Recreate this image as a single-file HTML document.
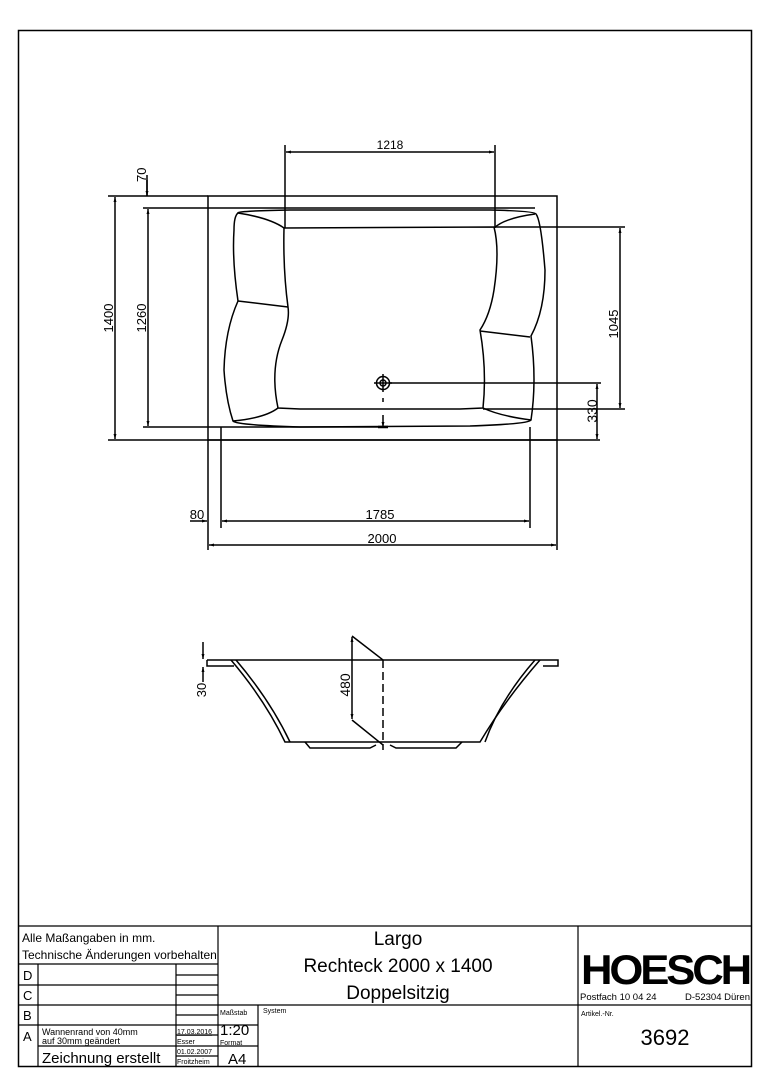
<!DOCTYPE html>
<html><head><meta charset="utf-8"><style>
html,body{margin:0;padding:0;background:#fff;}
svg{display:block;}
text{font-family:"Liberation Sans",sans-serif;fill:#000;}
</style></head><body>
<svg width="763" height="1080" viewBox="0 0 763 1080" xmlns="http://www.w3.org/2000/svg">
<defs>
<marker id="a" viewBox="0 0 10 10" refX="10" refY="5" markerWidth="10" markerHeight="5" orient="auto-start-reverse" markerUnits="userSpaceOnUse"><path d="M0,2 L10,5 L0,8 z" fill="#000"/></marker>
</defs>
<g stroke="#000" fill="none" stroke-width="1.5">
<rect x="18.5" y="30.5" width="733" height="1036"/>
<rect x="208" y="196" width="349" height="244"/>
<path d="M238,213 Q236,211 290,210 L490,210 Q535,211 536,214 Q541,220 545,270 Q545,310 531,336 Q537,380 531,420 Q529,424 470,426 L300,427 Q236,425 233,421 Q226,400 224,370 Q225,330 238,301 Q232,260 234,230 Q234,216 238,213 Z"/>
<path d="M284,228 L494,227 Q500,250 494,290 Q490,315 480,330 Q487,370 483,408 L460,409 L300,409 L278,408 Q270,370 282,340 Q290,320 288,307 Q283,270 284,228 Z"/>
<path d="M238,213 Q270,218 284,228 M535,214 Q505,218 494,228 M238,301 L288,307 M480,331 L530,337 M233,421 Q265,418 278,408 M531,420 Q500,416 483,408"/>
<circle cx="383" cy="383" r="6.5"/><circle cx="383" cy="383" r="3"/>
<path d="M374,383 L392,383 M383,374 L383,392 M383,398 L383,402"/>
<path d="M108,196 L208,196 M108,440 L600,440 M143,208 L535,208 M143,427 L383,427 M285,145 L285,228 M495,145 L495,228 M495,227 L625,227 M483,409 L625,409 M390,383 L601,383 M221,427 L221,528 M530,427 L530,528 M208,440 L208,550 M557,440 L557,550 M147,175 L147,196"/>
<path d="M190,521 L207,521" marker-end="url(#a)"/>
<path d="M115,197 L115,439" marker-start="url(#a)" marker-end="url(#a)"/>
<path d="M148,209 L148,426" marker-start="url(#a)" marker-end="url(#a)"/>
<path d="M147,180 L147,196" marker-end="url(#a)"/>
<path d="M286,152 L494,152" marker-start="url(#a)" marker-end="url(#a)"/>
<path d="M620,228 L620,408" marker-start="url(#a)" marker-end="url(#a)"/>
<path d="M597,384 L597,439" marker-start="url(#a)" marker-end="url(#a)"/>
<path d="M222,521 L529,521" marker-start="url(#a)" marker-end="url(#a)"/>
<path d="M209,545 L556,545" marker-start="url(#a)" marker-end="url(#a)"/>
<path d="M383,415 L383,427" marker-end="url(#a)"/>
<path d="M378,427 L388,427" stroke-width="2.5"/>
<path d="M207,660 L558,660 L558,666 L543,666 M207,660 L207,666 L234,666"/>
<path d="M231,660 Q265,700 285,742 L480,742 Q505,700 540,660"/>
<path d="M236,660 Q270,700 290,742 M535,660 Q500,700 485,742"/>
<path d="M305,742 L310,748 L370,748 L376,745 M390,745 L396,748 L456,748 L462,742"/>
<path d="M383,660 L383,750" stroke-dasharray="8,4"/>
<path d="M352,636 L383,660 M352,720 L383,745"/>
<path d="M352,637 L352,719" marker-start="url(#a)" marker-end="url(#a)"/>
<path d="M203,642 L203,659" marker-end="url(#a)"/>
<path d="M203,682 L203,667" marker-end="url(#a)"/>
<path d="M18,926 L752,926 M218,926 L218,1066 M578,926 L578,1066 M18,964 L218,964 M18,985 L218,985 M18,1005 L752,1005 M18,1025 L218,1025 M38,964 L38,1066 M176,964 L176,1066 M176,975 L218,975 M176,995 L218,995 M176,1015 L218,1015 M176,1035 L218,1035 M176,1046 L218,1046 M38,1046 L176,1046 M176,1056 L218,1056 M258,1005 L258,1066 M218,1025 L258,1025 M218,1046 L258,1046" stroke-width="1.2"/>
</g>
<g font-size="13">
<text x="390" y="149" text-anchor="middle" font-size="12">1218</text>
<text transform="translate(146,182) rotate(-90)">70</text>
<text transform="translate(113,318) rotate(-90)" text-anchor="middle">1400</text>
<text transform="translate(146,318) rotate(-90)" text-anchor="middle">1260</text>
<text transform="translate(618,324) rotate(-90)" text-anchor="middle">1045</text>
<text transform="translate(597,411) rotate(-90)" text-anchor="middle" font-size="14">330</text>
<text x="197" y="519" text-anchor="middle">80</text>
<text x="380" y="519" text-anchor="middle">1785</text>
<text x="382" y="543" text-anchor="middle">2000</text>
<text transform="translate(350,685) rotate(-90)" text-anchor="middle" font-size="14">480</text>
<text transform="translate(206,690) rotate(-90)" text-anchor="middle">30</text>
</g>
<g>
<text x="22" y="942" font-size="12">Alle Maßangaben in mm.</text>
<text x="22" y="959" font-size="12">Technische Änderungen vorbehalten</text>
<text x="23" y="980" font-size="13">D</text>
<text x="23" y="1000" font-size="13">C</text>
<text x="23" y="1020" font-size="13">B</text>
<text x="23" y="1041" font-size="13">A</text>
<text x="42" y="1035" font-size="9">Wannenrand von 40mm</text>
<text x="42" y="1044" font-size="9">auf 30mm geändert</text>
<text x="42" y="1063" font-size="15">Zeichnung erstellt</text>
<text x="177" y="1034" font-size="7" text-decoration="underline">17.03.2016</text>
<text x="177" y="1044" font-size="7">Esser</text>
<text x="177" y="1054" font-size="7">01.02.2007</text>
<text x="177" y="1064" font-size="7">Froitzheim</text>
<text x="220" y="1015" font-size="7">Maßstab</text>
<text x="220" y="1035" font-size="15">1:20</text>
<text x="220" y="1045" font-size="7">Format</text>
<text x="228" y="1064" font-size="15">A4</text>
<text x="263" y="1013" font-size="7">System</text>
<text x="398" y="945" font-size="19" text-anchor="middle">Largo</text>
<text x="398" y="972" font-size="19" text-anchor="middle">Rechteck 2000 x 1400</text>
<text x="398" y="999" font-size="19" text-anchor="middle">Doppelsitzig</text>
<text x="665" y="984" font-size="42" font-weight="bold" text-anchor="middle" textLength="168" lengthAdjust="spacingAndGlyphs" letter-spacing="-3">HOESCH</text>
<text x="580" y="1000" font-size="9.5">Postfach 10 04 24</text>
<text x="750" y="1000" font-size="9.5" text-anchor="end">D-52304 Düren</text>
<text x="581" y="1016" font-size="7">Artikel.-Nr.</text>
<text x="665" y="1045" font-size="22" text-anchor="middle">3692</text>
</g>
</svg>
</body></html>
